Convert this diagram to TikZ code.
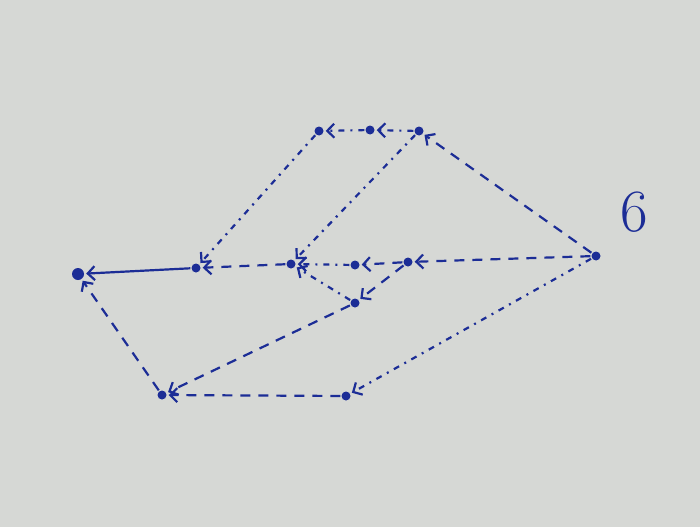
\documentclass[tikz,border=0pt]{standalone}
\usetikzlibrary{arrows.meta}
\definecolor{board}{RGB}{214,216,213}
\definecolor{ink}{RGB}{28,45,150}
\begin{document}
\begin{tikzpicture}[x=1pt,y=-1pt,
  dotnode/.style={circle,fill=ink,inner sep=0pt,minimum size=9pt},
  bigdot/.style={circle,fill=ink,inner sep=0pt,minimum size=12pt},
  edge/.style={draw=ink,line width=2.2pt,-{Straight Barb[length=7pt,width=14pt]},shorten >=2pt,shorten <=1pt},
  dashline/.style={edge,dash pattern=on 10pt off 8pt},
  dotline/.style={edge,dash pattern=on 6pt off 6pt on 2pt off 6pt},
  solidline/.style={edge}]
\fill[board] (0,0) rectangle (700,527);
\useasboundingbox (0,0) rectangle (700,527);
\node[bigdot] (A) at (78,274) {};
\node[dotnode] (B) at (196,268) {};
\node[dotnode] (C) at (291,264) {};
\node[dotnode] (D) at (355,265) {};
\node[dotnode] (E) at (408,262) {};
\node[dotnode] (F) at (596,256) {};
\node[dotnode] (G) at (319,131) {};
\node[dotnode] (H) at (370,130) {};
\node[dotnode] (I) at (419,131) {};
\node[dotnode] (J) at (355,303) {};
\node[dotnode] (K) at (162,395) {};
\node[dotnode] (L) at (346,396) {};
\node[text=ink,font=\fontsize{60}{60}\selectfont] (six) at (634,212) {6};
\draw[solidline] (B) -- (A);
\draw[dashline] (K) -- (A);
\draw[dashline] (F) -- (I);
\draw[dotline] (I) -- (H);
\draw[dotline] (H) -- (G);
\draw[dotline] (G) -- (B);
\draw[dotline] (I) -- (C);
\draw[dashline] (F) -- (E);
\draw[dashline] (E) -- (D);
\draw[dotline] (D) -- (C);
\draw[dashline] (C) -- (B);
\draw[dotline] (J) -- (C);
\draw[dashline] (E) -- (J);
\draw[dashline] (J) -- (K);
\draw[dotline] (F) -- (L);
\draw[dashline] (L) -- (K);
\end{tikzpicture}
\end{document}
